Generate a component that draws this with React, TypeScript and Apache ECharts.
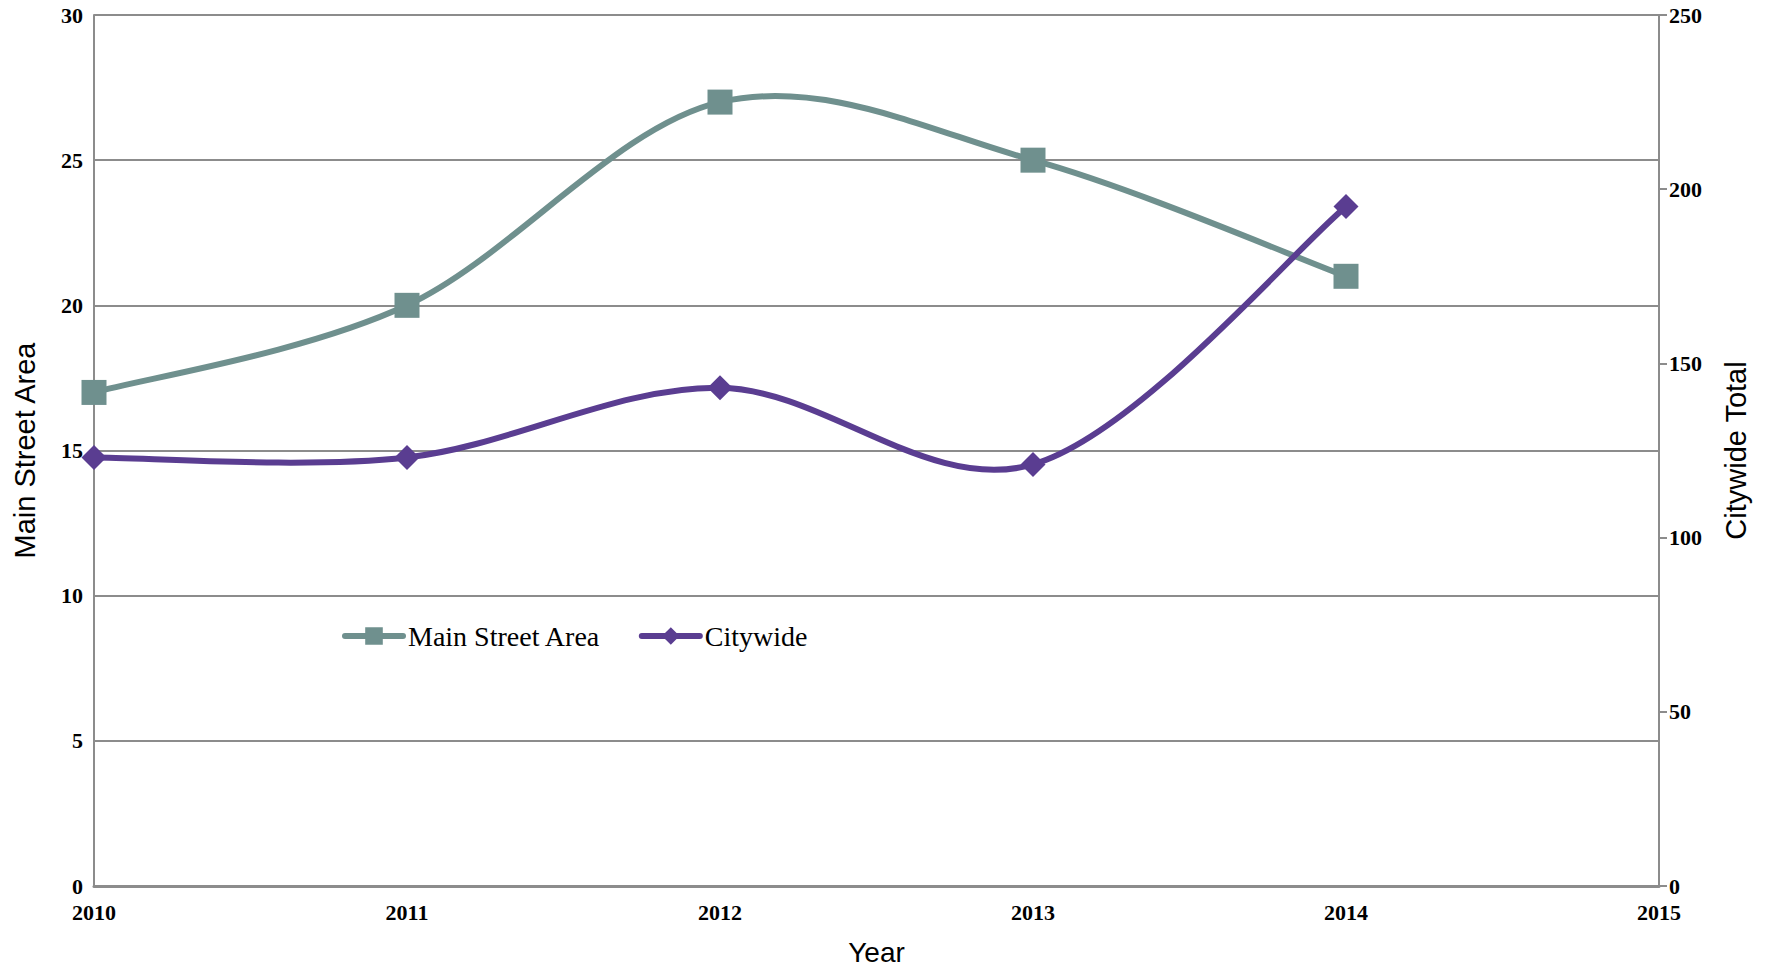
import React, { useEffect, useRef } from "react";
import * as echarts from "echarts";

const years = [2010, 2011, 2012, 2013, 2014];
const mainStreetArea = [17, 20, 27, 25, 21];
const citywide = [123, 123, 143, 121, 195];
const seriesNames = ["Main Street Area", "Citywide"];

const tickFont = "Liberation Serif";
const nameFont = "Liberation Sans";
const teal = "#6f908e";
const purple = "#5a3d91";

function curveSeries(values: number[], yAxisIndex: number, color: string) {
  return {
    type: "custom",
    name: "curve-" + yAxisIndex,
    yAxisIndex,
    z: 2,
    silent: true,
    encode: { x: 0, y: 1 },
    data: years.map((y, i) => [y, values[i]]),
    renderItem: (params: any, api: any) => {
      if (params.dataIndex !== 0) return null;
      const p = years.map((y, i) => api.coord([y, values[i]]));
      const n = p.length;
      let d = `M${p[0][0]},${p[0][1]}`;
      for (let i = 0; i < n - 1; i++) {
        const p0 = p[Math.max(i - 1, 0)];
        const p1 = p[i];
        const p2 = p[i + 1];
        const p3 = p[Math.min(i + 2, n - 1)];
        const c1x = p1[0] + (p2[0] - p0[0]) / 6;
        const c1y = p1[1] + (p2[1] - p0[1]) / 6;
        const c2x = p2[0] - (p3[0] - p1[0]) / 6;
        const c2y = p2[1] - (p3[1] - p1[1]) / 6;
        d += ` C${c1x},${c1y} ${c2x},${c2y} ${p2[0]},${p2[1]}`;
      }
      return {
        type: "path",
        shape: { pathData: d },
        style: { stroke: color, lineWidth: 6, fill: "none", lineCap: "round", lineJoin: "round" },
      };
    },
  };
}

export default function App() {
  const ref = useRef<HTMLDivElement>(null);
  useEffect(() => {
    const chart = echarts.init(ref.current!, null, { renderer: "svg" });
    const gray = "#8c8c8c";
    chart.setOption({
      animation: false,
      backgroundColor: "#ffffff",
      grid: { left: 94, right: 115, top: 15, bottom: 79 },
      legend: {
        left: 337,
        top: 617,
        itemWidth: 58,
        itemHeight: 22,
        itemGap: 38,
        lineStyle: { width: 6, opacity: 1, cap: "round" },
        textStyle: { fontFamily: tickFont, fontSize: 28, color: "#000" },
        data: seriesNames,
      },
      xAxis: {
        type: "value",
        min: 2010,
        max: 2015,
        interval: 1,
        name: "Year",
        nameLocation: "middle",
        nameGap: 52,
        nameTextStyle: { fontFamily: nameFont, fontSize: 28, color: "#000" },
        axisLine: { show: true, lineStyle: { color: gray, width: 3 } },
        axisTick: { show: false },
        splitLine: { show: false },
        axisLabel: {
          margin: 15,
          fontFamily: tickFont,
          fontSize: 22,
          fontWeight: "bold",
          color: "#000",
          formatter: (v: number) => String(v),
        },
      },
      yAxis: [
        {
          type: "value",
          min: 0,
          max: 30,
          interval: 5,
          position: "left",
          name: "Main Street Area",
          nameLocation: "middle",
          nameRotate: 90,
          nameGap: 55,
          nameTextStyle: { fontFamily: nameFont, fontSize: 29, color: "#000" },
          axisLine: { show: true, lineStyle: { color: gray, width: 2 } },
          axisTick: { show: false },
          splitLine: { show: true, lineStyle: { color: gray, width: 2 } },
          axisLabel: {
            margin: 11,
            fontFamily: tickFont,
            fontSize: 22,
            fontWeight: "bold",
            color: "#000",
          },
        },
        {
          type: "value",
          min: 0,
          max: 250,
          interval: 50,
          position: "right",
          name: "Citywide Total",
          nameLocation: "middle",
          nameRotate: 90,
          nameGap: 62,
          nameTextStyle: { fontFamily: nameFont, fontSize: 29, color: "#000" },
          axisLine: { show: true, lineStyle: { color: gray, width: 2 } },
          axisTick: { show: true, inside: false, length: 8, lineStyle: { color: gray, width: 2 } },
          splitLine: { show: false },
          axisLabel: {
            margin: 10,
            fontFamily: tickFont,
            fontSize: 22,
            fontWeight: "bold",
            color: "#000",
          },
        },
      ],
      series: [
        curveSeries(mainStreetArea, 0, teal),
        curveSeries(citywide, 1, purple),
        {
          name: seriesNames[0],
          type: "line",
          yAxisIndex: 0,
          z: 3,
          symbol: "rect",
          symbolSize: 25,
          color: teal,
          lineStyle: { color: teal, width: 6, opacity: 0 },
          itemStyle: { color: teal },
          data: years.map((y, i) => [y, mainStreetArea[i]]),
        },
        {
          name: seriesNames[1],
          type: "line",
          yAxisIndex: 1,
          z: 3,
          symbol: "diamond",
          symbolSize: 25,
          color: purple,
          lineStyle: { color: purple, width: 6, opacity: 0 },
          itemStyle: { color: purple },
          data: years.map((y, i) => [y, citywide[i]]),
        },
      ],
    });
    return () => chart.dispose();
  }, []);
  return (
    <div
      ref={ref}
      style={{ position: "fixed", left: 0, top: 0, width: 1774, height: 971, background: "#fff" }}
    />
  );
}
